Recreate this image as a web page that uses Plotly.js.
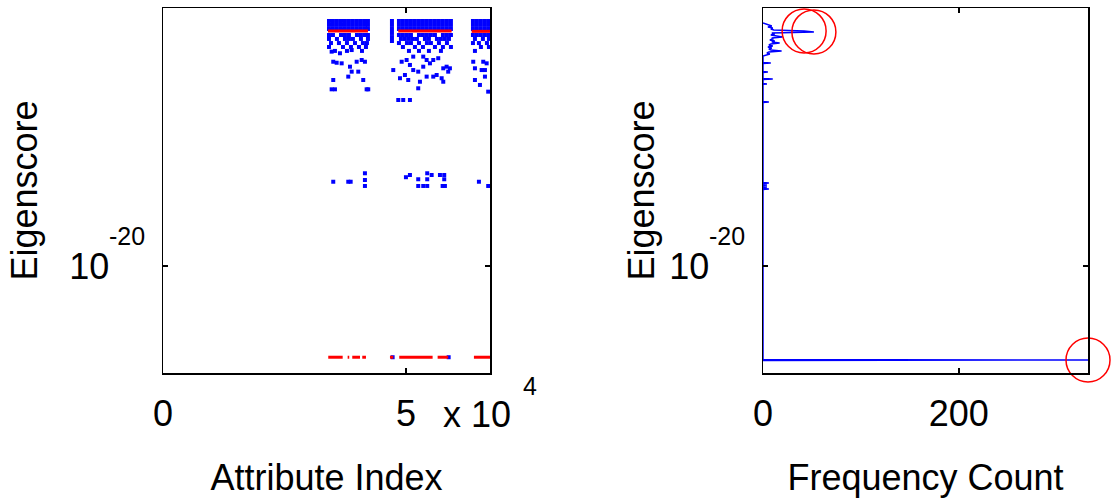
<!DOCTYPE html>
<html>
<head>
<meta charset="utf-8">
<script src="https://cdn.plot.ly/plotly-3.0.1.min.js"></script>
<style>
html,body{margin:0;padding:0;background:#fff;}
#chart{width:1114px;height:503px;}
</style>
</head>
<body>
<div id="chart"></div>
<script>
// ---------- Left panel: eigenscore per attribute (blue dots) ----------
// attribute index values
const blueIndex = [
  // cluster 1 dense band
  34160,34980,35800,36630,37450,38270,39090,39920,40740,41560,42180,
  34160,34980,35800,36630,37450,38270,39090,39920,40740,41560,42180,
  34160,34980,35800,36630,37450,38270,39090,39920,40740,41560,42180,
  // cluster 1 lower band
  34160,34980,36630,37450,38270,39920,40740,41560,42180,
  34160,35800,37450,38270,39090,40740,42180,
  34570,36210,37860,39510,41150,41980,
  34160,37040,38680,40330,41770,
  35390,37860,40950,
  // cluster 1 scattered
  34710,36420,38830,35040,35740,36770,38480,39860,40890,41560,38830,38130,35040,41210,34710,35390,41910,42240,40190,
  // cluster 2 left column
  47120,47120,47120,47120,47120,47120,
  // cluster 2 dense band
  48560,49380,50210,51030,51850,52680,53500,54320,55140,55970,56790,57610,58440,59260,
  48560,49380,50210,51030,51850,52680,53500,54320,55140,55970,56790,57610,58440,59260,
  48560,49380,50210,51030,51850,52680,53500,54320,55140,55970,56790,57610,58440,59260,
  // cluster 2 lower band
  48560,49380,50210,51030,52680,53500,54320,55140,55970,57610,58440,59260,
  48970,49790,50620,51440,52260,53910,54730,56380,57200,58020,58850,
  48560,50210,51030,52680,54320,55140,56790,58440,
  49380,51850,53500,55970,57610,59260,
  50620,52680,54730,57200,
  // cluster 2 scattered
  47390,49120,50140,50820,51500,49790,48770,50470,52530,53560,54260,54940,55620,56320,57680,58370,58700,59050,52880,52530,54260,55620,57350,57680,48420,49440,50820,51500,53560,56650,
  // cluster 3 dense band
  63790,64610,65430,66260,67080,
  63790,64610,65430,66260,67080,
  63790,64610,65430,66260,67080,
  // cluster 3 lower band
  63790,64610,65430,66260,67080,
  64200,65840,67080,
  63790,65020,66670,
  65430,67080,
  64200,
  // cluster 3 scattered
  63850,65910,66610,64200,65580,66260,64200,66260,65230,66930,
  // middle group
  35040,38130,38620,41560,41560,41560,50000,50820,52530,52530,53560,54380,54380,54380,55290,57000,57880,57880,57550,58020,65020,66930,
  // lowest values
  47260,58790
];
// log10 of eigenscore for each blue dot (same order)
const blueLog10Score = [
  -3.22,-3.22,-3.22,-3.22,-3.22,-3.22,-3.22,-3.22,-3.22,-3.22,-3.22,
  -3.49,-3.49,-3.49,-3.49,-3.49,-3.49,-3.49,-3.49,-3.49,-3.49,-3.49,
  -3.77,-3.77,-3.77,-3.77,-3.77,-3.77,-3.77,-3.77,-3.77,-3.77,-3.77,
  -4.18,-4.18,-4.18,-4.18,-4.18,-4.18,-4.18,-4.18,-4.18,
  -4.45,-4.45,-4.45,-4.45,-4.45,-4.45,-4.45,
  -4.73,-4.73,-4.73,-4.73,-4.73,-4.73,
  -5.00,-5.00,-5.00,-5.00,-5.00,
  -5.27,-5.27,-5.27,
  -5.32,-5.43,-5.21,-6.01,-6.08,-6.12,-6.35,-6.01,-5.89,-6.01,-6.69,-7.03,-7.26,-7.26,-7.90,-7.90,-7.90,-7.90,-6.69,
  -3.22,-3.49,-3.77,-4.04,-4.32,-4.59,
  -3.22,-3.22,-3.22,-3.22,-3.22,-3.22,-3.22,-3.22,-3.22,-3.22,-3.22,-3.22,-3.22,-3.22,
  -3.49,-3.49,-3.49,-3.49,-3.49,-3.49,-3.49,-3.49,-3.49,-3.49,-3.49,-3.49,-3.49,-3.49,
  -3.77,-3.77,-3.77,-3.77,-3.77,-3.77,-3.77,-3.77,-3.77,-3.77,-3.77,-3.77,-3.77,-3.77,
  -4.18,-4.18,-4.18,-4.18,-4.18,-4.18,-4.18,-4.18,-4.18,-4.18,-4.18,-4.18,
  -4.45,-4.45,-4.45,-4.45,-4.45,-4.45,-4.45,-4.45,-4.45,-4.45,-4.45,
  -4.73,-4.73,-4.73,-4.73,-4.73,-4.73,-4.73,-4.73,
  -5.00,-5.00,-5.00,-5.00,-5.00,-5.00,
  -5.27,-5.27,-5.27,-5.27,
  -6.58,-6.01,-5.89,-6.23,-6.58,-6.92,-7.14,-7.26,-6.69,-6.35,-5.89,-6.12,-5.89,-6.92,-6.46,-6.35,-6.69,-6.46,-7.38,-7.83,-7.03,-7.03,-7.14,-7.38,-8.63,-8.63,-8.63,-5.66,-5.66,-5.77,
  -3.22,-3.22,-3.22,-3.22,-3.22,
  -3.49,-3.49,-3.49,-3.49,-3.49,
  -3.77,-3.77,-3.77,-3.77,-3.77,
  -4.18,-4.18,-4.18,-4.18,-4.18,
  -4.45,-4.45,-4.45,
  -4.73,-4.73,-4.73,
  -5.00,-5.00,
  -5.27,
  -6.01,-6.01,-6.12,-6.46,-6.58,-6.58,-7.26,-7.03,-7.60,-8.06,
  -14.23,-14.23,-14.23,-13.65,-14.11,-14.52,-13.92,-13.77,-14.06,-14.52,-14.52,-13.65,-14.06,-14.52,-13.77,-13.77,-13.77,-14.06,-14.52,-14.52,-14.23,-14.52,
  -26.25,-26.25
];
// red selected runs (start/end index of each run, null separates runs)
const redIndex = [33950,42180,null,48420,59400,null,63520,67300,null,
  34010,36980,null,38000,38330,null,38950,40540,null,41010,41770,null,
  46710,47390,null,48620,55490,null,56520,58700,null,63990,67300];
const redLog10Score = [-3.90,-3.90,null,-3.90,-3.90,null,-3.93,-3.93,null,
  -26.25,-26.25,null,-26.25,-26.25,null,-26.25,-26.25,null,-26.25,-26.25,null,
  -26.25,-26.25,null,-26.25,-26.25,null,-26.25,-26.25,null,-26.25,-26.25];

// ---------- Right panel: histogram of eigenscores (log10 bin centre, count) ----------
const histBinLog10 = [
  -26.47,-26.44,-26.41,
  -14.76,-14.73,-14.70,-14.62,-14.59,-14.56,
  -14.48,-14.45,-14.42,-14.35,-14.32,-14.29,
  -8.80,-8.77,-8.74,
  -7.56,-7.53,-7.50,-7.22,-7.19,-7.16,
  -6.74,-6.71,-6.68,-6.13,-6.10,-6.07,
  -5.62,-5.55,-5.48,-5.41,-5.34,-5.27,-5.21,-5.14,-5.07,-5.00,-4.93,-4.86,-4.80,-4.73,-4.66,-4.59,
  -4.52,-4.45,-4.38,-4.32,-4.25,-4.18,-4.11,-4.04,-3.97,-3.90,-3.84,-3.77,-3.70,-3.63,-3.56,-3.49,-3.43,-3.36
];
const histCount = [
  0,332,0,
  0,6,0,0,4,0,
  0,4,0,0,6,0,
  0,6,0,
  0,4,0,0,10,0,
  0,5,0,0,8,0,
  0,3,7,4,6,19,8,6,9,5,10,6,8,17,9,12,
  7,10,9,20,13,8,12,9,52,42,11,8,10,5,9,6,2,0
];
const peakCount = [42,52,332];
const peakLog10 = [-3.90,-3.97,-26.44];

const xTickVals = [0,50000];
const xTickText = ['0','5'];
const x2TickVals = [0,200];
const x2TickText = ['0','200'];
const yTickVals = [1e-20];
const yTickText = ['10'];

const pow10 = a => a.map(v => v === null ? null : Math.pow(10, v));
const FONT = 'Liberation Sans, Arial, sans-serif';

const traces = [
  {type:'scatter', mode:'markers', x:blueIndex, y:pow10(blueLog10Score), xaxis:'x', yaxis:'y',
   marker:{symbol:'square', size:4, color:'#0000ff', line:{width:0}}, hoverinfo:'skip'},
  {type:'scatter', mode:'lines', x:redIndex, y:pow10(redLog10Score), xaxis:'x', yaxis:'y',
   line:{color:'#ff0000', width:3}, connectgaps:false, hoverinfo:'skip'},
  {type:'scatter', mode:'lines', x:histCount, y:pow10(histBinLog10), xaxis:'x2', yaxis:'y2',
   line:{color:'#0000ff', width:1.5}, hoverinfo:'skip'},
  {type:'scatter', mode:'markers', x:peakCount, y:pow10(peakLog10), xaxis:'x2', yaxis:'y2',
   marker:{symbol:'circle-open', size:44, color:'#ff0000', line:{width:1.5, color:'#ff0000'}},
   cliponaxis:false, hoverinfo:'skip'}
];

const axCommon = {
  showline:true, mirror:'ticks', linecolor:'#000', linewidth:1.5,
  ticks:'inside', ticklen:5, tickwidth:1.5, tickcolor:'#000',
  showgrid:false, zeroline:false,
  tickfont:{family:FONT, size:36, color:'#000'}
};
const yRange = [-27.33, -2.33];

const layout = {
  width:1114, height:503,
  margin:{l:0, r:0, t:0, b:0},
  paper_bgcolor:'#fff', plot_bgcolor:'#fff',
  showlegend:false,
  font:{family:FONT, color:'#000'},
  xaxis: Object.assign({}, axCommon, {
    domain:[163/1114, 490/1114], range:[0,67300], anchor:'y',
    tickmode:'array', tickvals:xTickVals, ticktext:xTickText, ticklabelstandoff:8,
    title:{text:'Attribute Index', font:{family:FONT, size:36, color:'#000'}, standoff:32}
  }),
  yaxis: Object.assign({}, axCommon, {
    domain:[1-373/503, 1-8/503], type:'log', range:yRange, anchor:'x',
    tickmode:'array', tickvals:yTickVals, ticktext:yTickText, ticklabelstandoff:45,
    title:{text:'Eigenscore', font:{family:FONT, size:36, color:'#000'}, standoff:20}
  }),
  xaxis2: Object.assign({}, axCommon, {
    domain:[763/1114, 1088/1114], range:[0,332], anchor:'y2',
    tickmode:'array', tickvals:x2TickVals, ticktext:x2TickText, ticklabelstandoff:8,
    title:{text:'Frequency Count', font:{family:FONT, size:36, color:'#000'}, standoff:32}
  }),
  yaxis2: Object.assign({}, axCommon, {
    domain:[1-373/503, 1-8/503], type:'log', range:yRange, anchor:'x2',
    tickmode:'array', tickvals:yTickVals, ticktext:yTickText, ticklabelstandoff:45,
    title:{text:'Eigenscore', font:{family:FONT, size:36, color:'#000'}, standoff:3}
  }),
  annotations:[
    {text:'x 10', xref:'paper', yref:'paper', x:477/1114, y:1-414/503, xanchor:'center', yanchor:'middle',
     showarrow:false, font:{family:FONT, size:36, color:'#000'}},
    {text:'4', xref:'paper', yref:'paper', x:530/1114, y:1-386/503, xanchor:'center', yanchor:'middle',
     showarrow:false, font:{family:FONT, size:25, color:'#000'}},
    {text:'-20', xref:'paper', yref:'y', x:127/1114, y:-20, yshift:30, xanchor:'center', yanchor:'middle',
     showarrow:false, font:{family:FONT, size:25, color:'#000'}},
    {text:'-20', xref:'paper', yref:'y2', x:727/1114, y:-20, yshift:30, xanchor:'center', yanchor:'middle',
     showarrow:false, font:{family:FONT, size:25, color:'#000'}}
  ]
};

Plotly.newPlot('chart', traces, layout, {displayModeBar:false, staticPlot:true});
</script>
</body>
</html>
